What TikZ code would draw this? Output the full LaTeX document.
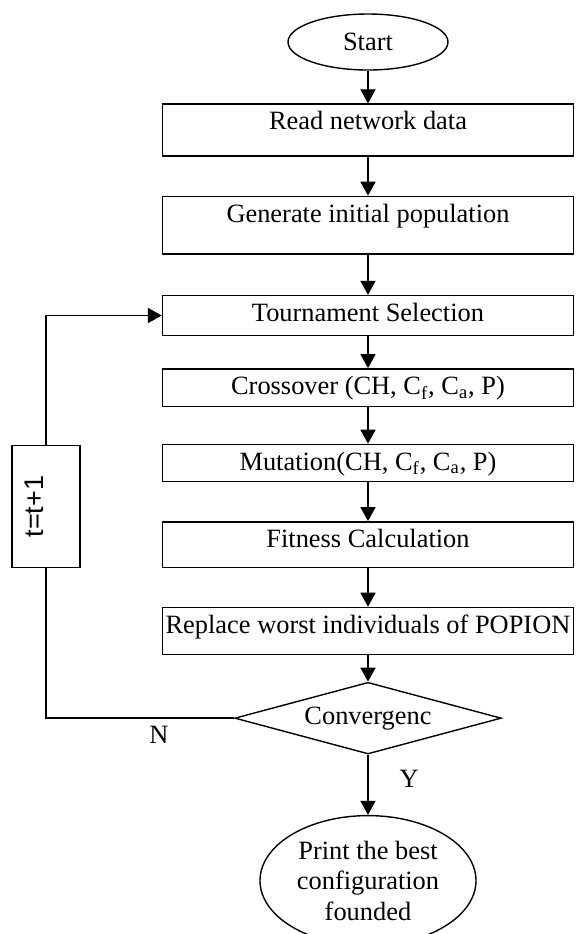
\documentclass[tikz,border=0pt]{standalone}
\usepackage{fontspec}
\setmainfont{Liberation Serif}
\newfontfamily\countfont{Liberation Sans}
\usepackage{tikz}
\usetikzlibrary{shapes,arrows.meta}
\usetikzlibrary{positioning}

\tikzset{
    block/.style={rectangle, draw, line width=0.7pt, inner sep=0pt, minimum width=205.5pt, text height=12.9pt},
    terminal/.style={ellipse, draw, line width=0.7pt, inner sep=0pt},
    decision/.style={diamond, draw, line width=0.7pt, inner sep=0pt, aspect=3.7, minimum width=133.25pt, minimum height=35.85pt},
    counter/.style={rectangle, draw, line width=0.7pt, inner sep=0pt, rotate=90, minimum width=60.8pt, text height=16pt, text depth=18pt, font=\countfont\fontsize{13.5}{16}\selectfont},
    flow/.style={line width=0.9pt, -{Triangle[length=7pt,width=7.5pt]}},
    link/.style={line width=0.9pt}
}

\begin{document}
\begin{tikzpicture}[font=\fontsize{13.2}{15.25}\selectfont]
        \useasboundingbox (0,0) rectangle (287.5pt,-467pt);

        \node[terminal, minimum width=80pt, minimum height=28pt] (start) at (184pt,-21pt) {Start};
        \node[block, text depth=13pt, below=16.35pt of start]     (read)    {Read network data};
        \node[block, text depth=15.9pt, below=19.5pt of read]     (init)    {Generate initial population};
        \node[block, text depth=7pt, below=20.15pt of init]       (select)  {Tournament Selection};
        \node[block, text depth=5.8pt, below=16pt of select]      (cross)   {Crossover (CH, C\textsubscript{f}, C\textsubscript{a}, P)};
        \node[block, text depth=5.8pt, below=18.35pt of cross]    (mutate)  {Mutation(CH, C\textsubscript{f}, C\textsubscript{a}, P)};
        \node[block, text depth=10pt, below=19.35pt of mutate]    (fitness) {Fitness Calculation};
        \node[block, text depth=10.5pt, below=19.2pt of fitness]  (replace) {Replace worst individuals of POPION};
        \node[decision, below=13.35pt of replace]                 (conv)    {Convergenc};
        \node[terminal, minimum width=108pt, minimum height=65pt, align=center, below=30.1pt of conv] (print) {Print the best\\configuration\\founded};
        \node[counter] (iter) at (23pt,-253.25pt) {t=t+1};

        \draw[flow] (start)   -- (read);
        \draw[flow] (read)    -- (init);
        \draw[flow] (init)    -- (select);
        \draw[flow] (select)  -- (cross);
        \draw[flow] (cross)   -- (mutate);
        \draw[flow] (mutate)  -- (fitness);
        \draw[flow] (fitness) -- (replace);
        \draw[flow] (replace) -- (conv);
        \draw[flow] (conv)    -- node[pos=0.4, right=12pt] {Y} (print);
        \draw[link] (conv.west) -- node[pos=0.4, below] {N} (conv.west -| iter.west) -- (iter.west);
        \draw[flow] (iter.east) |- (select.west);
\end{tikzpicture}
\end{document}
